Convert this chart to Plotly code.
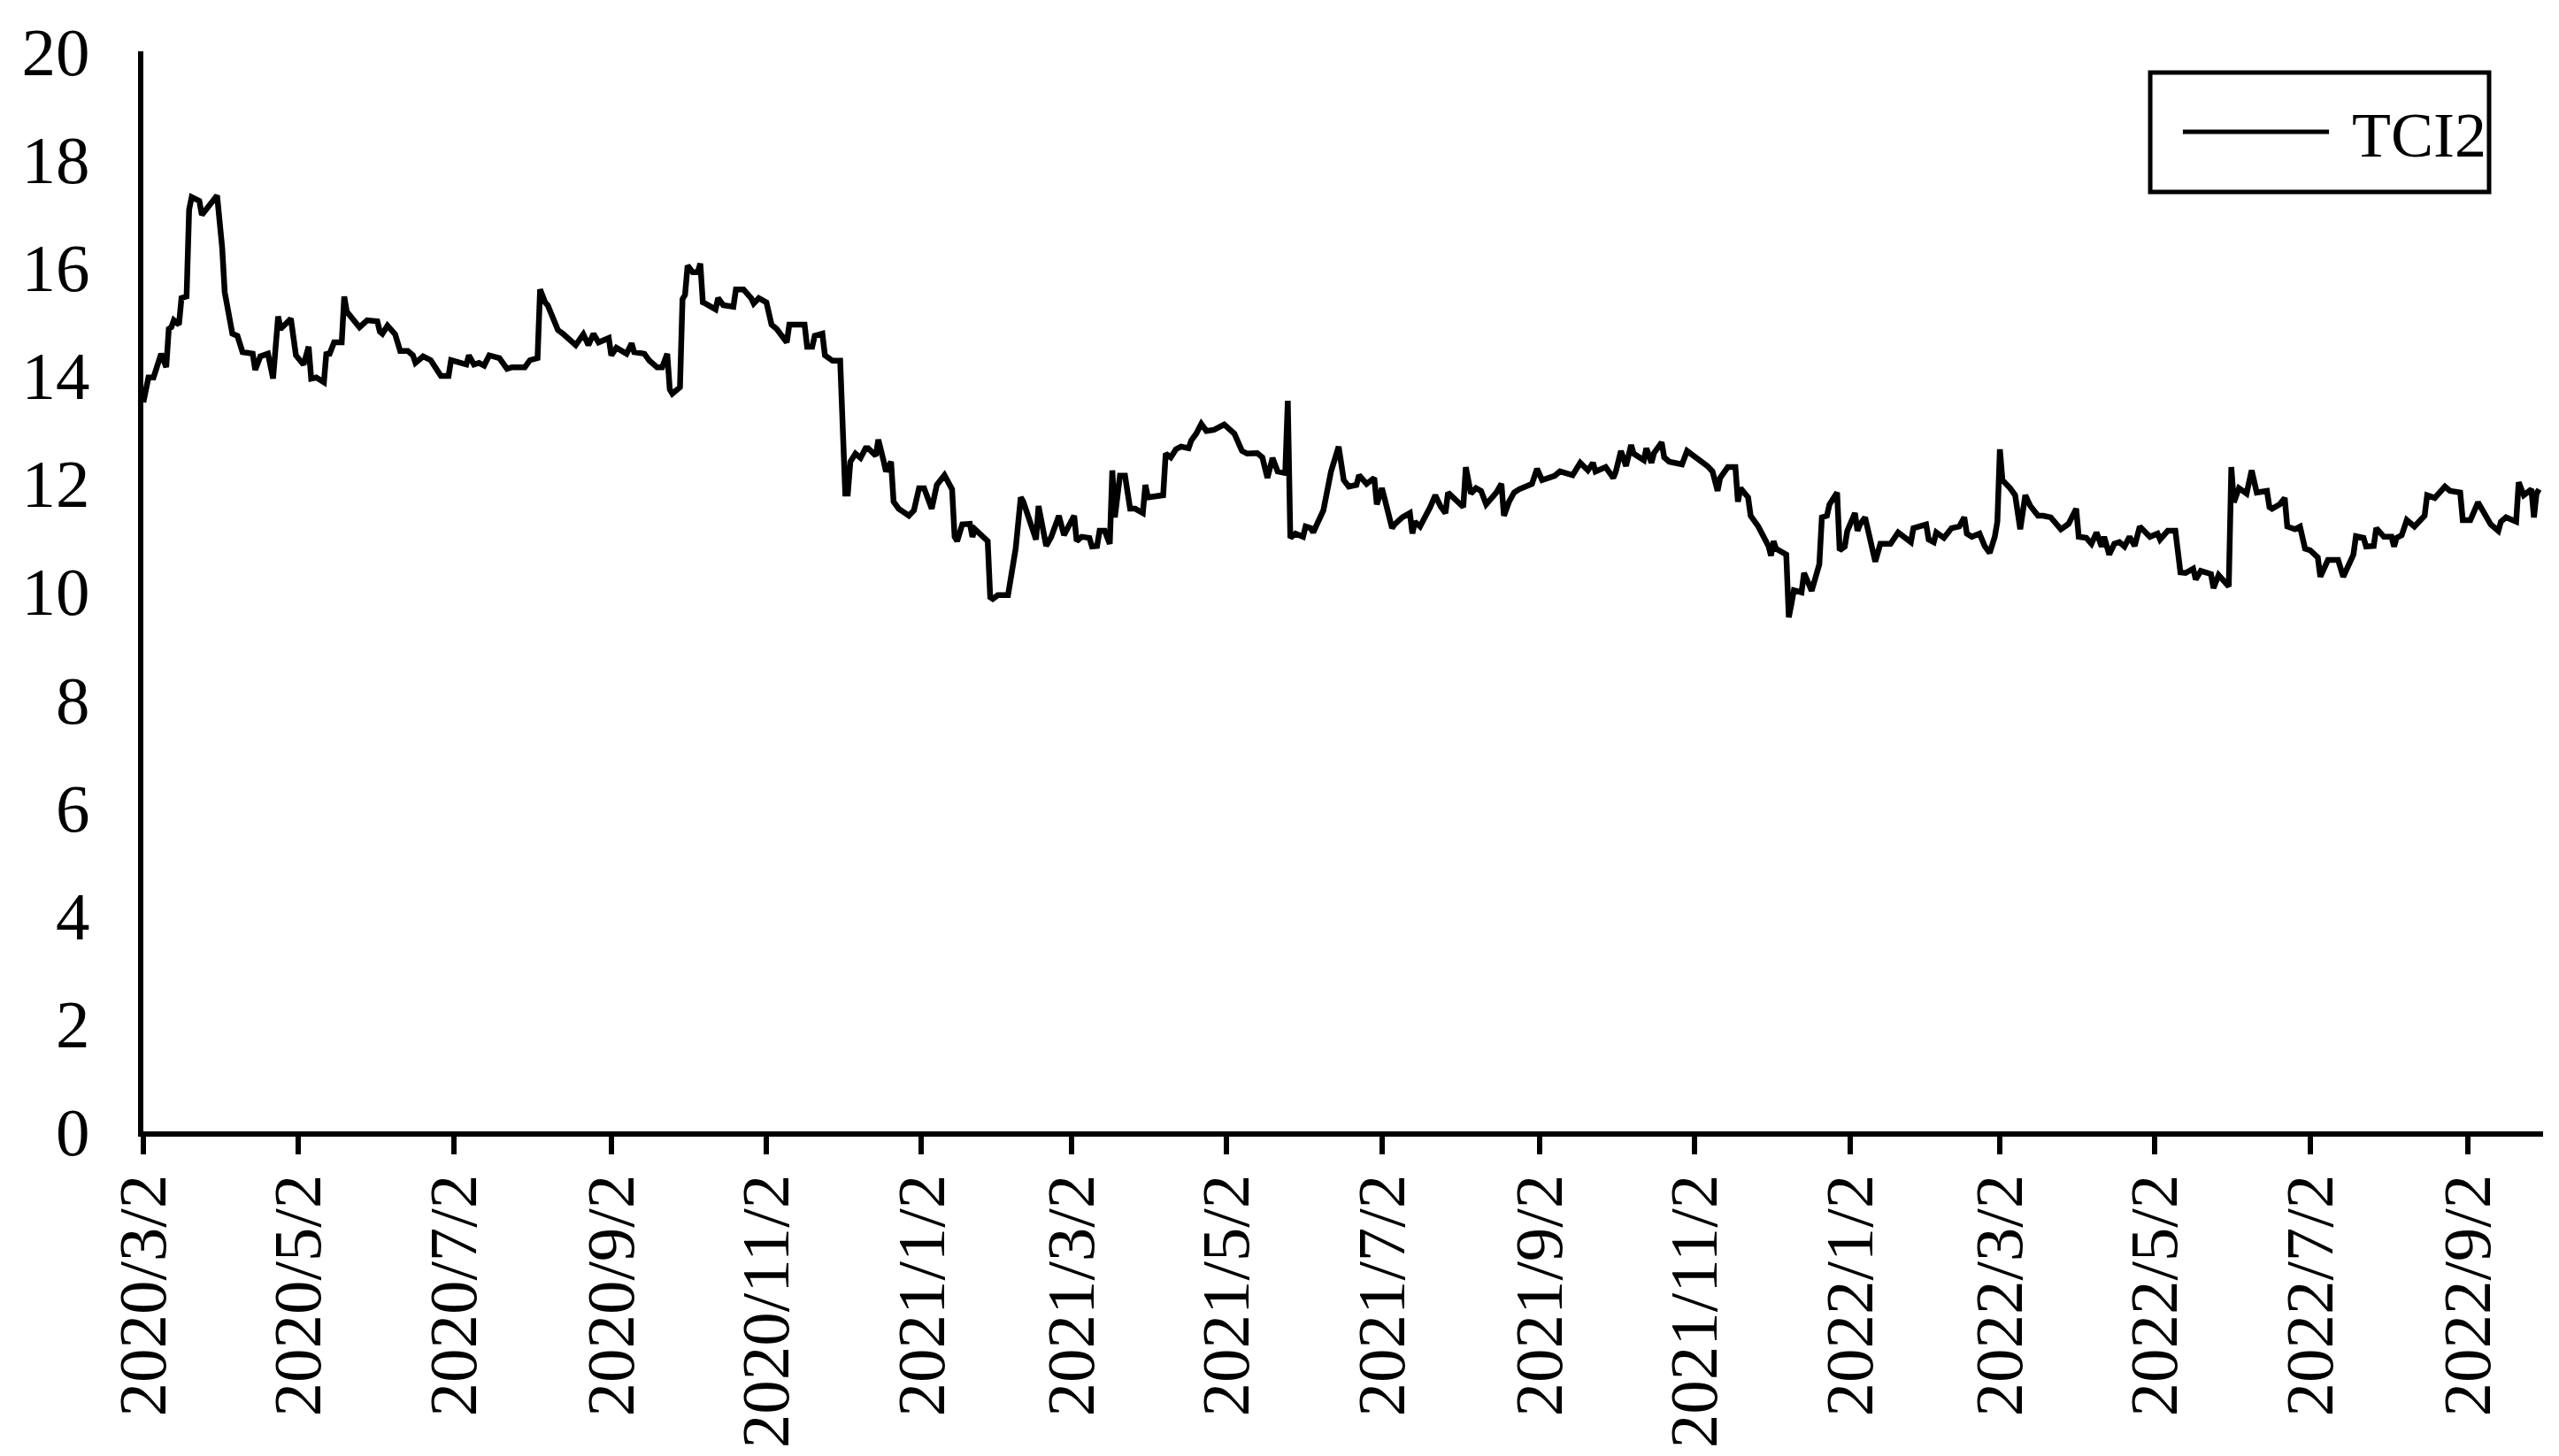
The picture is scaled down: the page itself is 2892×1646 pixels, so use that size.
import plotly.graph_objects as go

# TCI2 readings, split by year
dates_2020 = [
    "2020-03-02", "2020-03-04", "2020-03-06", "2020-03-09", "2020-03-11", "2020-03-12", "2020-03-13", "2020-03-14",
    "2020-03-16", "2020-03-17", "2020-03-19", "2020-03-20", "2020-03-21", "2020-03-24", "2020-03-25", "2020-03-31",
    "2020-04-02", "2020-04-03", "2020-04-06", "2020-04-08", "2020-04-10", "2020-04-14", "2020-04-15", "2020-04-17",
    "2020-04-20", "2020-04-22", "2020-04-24", "2020-04-25", "2020-04-29",
    "2020-05-01", "2020-05-04", "2020-05-06", "2020-05-07", "2020-05-09", "2020-05-12", "2020-05-13", "2020-05-14",
    "2020-05-16", "2020-05-19", "2020-05-20", "2020-05-21", "2020-05-26", "2020-05-29",
    "2020-06-02", "2020-06-03", "2020-06-04", "2020-06-06", "2020-06-09", "2020-06-11", "2020-06-14", "2020-06-16",
    "2020-06-17", "2020-06-20", "2020-06-23", "2020-06-27", "2020-06-30",
    "2020-07-01", "2020-07-05", "2020-07-07", "2020-07-08", "2020-07-10", "2020-07-12", "2020-07-14", "2020-07-16",
    "2020-07-20", "2020-07-23", "2020-07-25", "2020-07-30",
    "2020-08-01", "2020-08-04", "2020-08-05", "2020-08-07", "2020-08-08", "2020-08-12", "2020-08-14", "2020-08-19",
    "2020-08-22", "2020-08-24", "2020-08-26", "2020-08-28",
    "2020-09-01", "2020-09-02", "2020-09-04", "2020-09-08", "2020-09-10", "2020-09-11", "2020-09-15", "2020-09-17",
    "2020-09-20", "2020-09-22", "2020-09-24", "2020-09-25", "2020-09-26", "2020-09-29", "2020-09-30",
    "2020-10-01", "2020-10-02", "2020-10-04", "2020-10-06", "2020-10-07", "2020-10-08", "2020-10-09", "2020-10-13",
    "2020-10-14", "2020-10-16", "2020-10-20", "2020-10-21", "2020-10-24", "2020-10-27", "2020-10-28", "2020-10-30",
    "2020-11-02", "2020-11-04", "2020-11-06", "2020-11-10", "2020-11-11", "2020-11-17", "2020-11-18", "2020-11-20",
    "2020-11-21", "2020-11-24", "2020-11-25", "2020-11-27", "2020-11-28",
    "2020-12-01", "2020-12-03", "2020-12-04", "2020-12-05", "2020-12-07", "2020-12-09", "2020-12-11", "2020-12-12",
    "2020-12-15", "2020-12-16", "2020-12-18", "2020-12-19", "2020-12-21", "2020-12-22", "2020-12-24", "2020-12-28",
    "2020-12-30",
]
tci2_2020 = [
    13.5, 13.96, 13.96, 14.40, 14.15, 14.86, 14.89, 15.02, 14.94, 15.43, 15.46, 17.07, 17.30, 17.23, 16.97, 17.33,
    16.36, 15.54, 14.77, 14.73, 14.43, 14.40, 14.10, 14.35, 14.40, 13.94, 15.09, 14.86, 15.05,
    14.37, 14.20, 14.53, 13.94, 13.96, 13.87, 14.43, 14.37, 14.61, 14.61, 15.46, 15.18, 14.89, 15.02,
    15.00, 14.81, 14.77, 14.92, 14.76, 14.45, 14.45, 14.37, 14.23, 14.35, 14.28, 13.99, 13.99,
    14.28, 14.23, 14.20, 14.37, 14.20, 14.23, 14.18, 14.37, 14.32, 14.12, 14.15, 14.15,
    14.28, 14.32, 15.59, 15.35, 15.30, 14.84, 14.77, 14.56, 14.76, 14.56, 14.77, 14.61,
    14.69, 14.37, 14.51, 14.40, 14.59, 14.43, 14.40, 14.27, 14.15, 14.15, 14.40, 13.74, 13.66, 13.78, 15.41,
    15.49, 16.03, 15.91, 15.91, 16.07, 15.35, 15.33, 15.22, 15.43, 15.30, 15.27, 15.59, 15.59, 15.43, 15.33, 15.43,
    15.35, 14.94, 14.86, 14.61, 14.94, 14.94, 14.53, 14.53, 14.73, 14.77, 14.37, 14.28, 14.27,
    14.27, 11.81, 11.81, 12.40, 12.55, 12.47, 12.65, 12.65, 12.51, 12.81, 12.43, 12.22, 12.40, 11.66, 11.53, 11.40,
    11.50,
]

dates_2021 = [
    "2021-01-01", "2021-01-03", "2021-01-06", "2021-01-08", "2021-01-11", "2021-01-14", "2021-01-15", "2021-01-16",
    "2021-01-18", "2021-01-21", "2021-01-22", "2021-01-23", "2021-01-26", "2021-01-28", "2021-01-29", "2021-01-30",
    "2021-02-01", "2021-02-05", "2021-02-08", "2021-02-10", "2021-02-11", "2021-02-16", "2021-02-17", "2021-02-20",
    "2021-02-22", "2021-02-25", "2021-02-27",
    "2021-03-01", "2021-03-03", "2021-03-04", "2021-03-06", "2021-03-09", "2021-03-10", "2021-03-12", "2021-03-13",
    "2021-03-15", "2021-03-17", "2021-03-18", "2021-03-19", "2021-03-21", "2021-03-23", "2021-03-25", "2021-03-27",
    "2021-03-30", "2021-03-31",
    "2021-04-01", "2021-04-07", "2021-04-08", "2021-04-10", "2021-04-12", "2021-04-14", "2021-04-17", "2021-04-18",
    "2021-04-20", "2021-04-22", "2021-04-24", "2021-04-27",
    "2021-05-01", "2021-05-04", "2021-05-05", "2021-05-08", "2021-05-10", "2021-05-14", "2021-05-16", "2021-05-18",
    "2021-05-20", "2021-05-22", "2021-05-25", "2021-05-26", "2021-05-27", "2021-05-29",
    "2021-06-01", "2021-06-02", "2021-06-04", "2021-06-05", "2021-06-09", "2021-06-12", "2021-06-15", "2021-06-17",
    "2021-06-19", "2021-06-22", "2021-06-23", "2021-06-26", "2021-06-29", "2021-06-30",
    "2021-07-02", "2021-07-03", "2021-07-06", "2021-07-07", "2021-07-10", "2021-07-13", "2021-07-14", "2021-07-15",
    "2021-07-17", "2021-07-21", "2021-07-23", "2021-07-25", "2021-07-27", "2021-07-28",
    "2021-08-01", "2021-08-03", "2021-08-04", "2021-08-06", "2021-08-08", "2021-08-10", "2021-08-12", "2021-08-16",
    "2021-08-18", "2021-08-19", "2021-08-21", "2021-08-23", "2021-08-25", "2021-08-30",
    "2021-09-01", "2021-09-03", "2021-09-08", "2021-09-10", "2021-09-15", "2021-09-18", "2021-09-21", "2021-09-23",
    "2021-09-24", "2021-09-28",
    "2021-10-01", "2021-10-02", "2021-10-04", "2021-10-06", "2021-10-08", "2021-10-09", "2021-10-13", "2021-10-14",
    "2021-10-16", "2021-10-17", "2021-10-20", "2021-10-21", "2021-10-23", "2021-10-28", "2021-10-30",
    "2021-11-03", "2021-11-05", "2021-11-07", "2021-11-09", "2021-11-11", "2021-11-12", "2021-11-15", "2021-11-18",
    "2021-11-19", "2021-11-20", "2021-11-23", "2021-11-24", "2021-11-27",
    "2021-12-01", "2021-12-02", "2021-12-03", "2021-12-04", "2021-12-08", "2021-12-09", "2021-12-10", "2021-12-11",
    "2021-12-14", "2021-12-15", "2021-12-18", "2021-12-21", "2021-12-22", "2021-12-24", "2021-12-25", "2021-12-28",
    "2021-12-29", "2021-12-31",
]
tci2_2021 = [
    11.91, 11.91, 11.53, 11.97, 12.15, 11.89, 11.01, 10.93, 11.24, 11.25, 11.01, 11.15, 11.01, 10.93, 9.89, 9.86,
    9.93, 9.93, 10.79, 11.74, 11.66, 10.96, 11.58, 10.84, 11.01, 11.40, 11.04,
    11.24, 11.40, 10.93, 11.01, 10.99, 10.83, 10.84, 11.12, 11.12, 10.88, 12.24, 11.37, 12.14, 12.14, 11.53, 11.53,
    11.45, 11.97,
    11.74, 11.78, 12.55, 12.48, 12.63, 12.68, 12.65, 12.79, 12.92, 13.10, 12.97, 12.99,
    13.09, 12.97, 12.92, 12.60, 12.55, 12.56, 12.48, 12.10, 12.47, 12.22, 12.19, 13.53, 10.99, 11.07,
    11.01, 11.20, 11.17, 11.09, 11.50, 12.22, 12.68, 12.06, 11.94, 11.97, 12.15, 11.99, 12.10, 11.61,
    11.91, 11.73, 11.17, 11.24, 11.37, 11.45, 11.07, 11.29, 11.20, 11.56, 11.78, 11.58, 11.45, 11.83,
    11.66, 11.56, 12.30, 11.81, 11.91, 11.86, 11.61, 11.83, 11.99, 11.40, 11.66, 11.83, 11.89, 11.99,
    12.27, 12.06, 12.14, 12.22, 12.15, 12.38, 12.24, 12.38, 12.22, 12.30,
    12.10, 12.22, 12.60, 12.32, 12.71, 12.55, 12.43, 12.65, 12.38, 12.56, 12.76, 12.48, 12.40, 12.35, 12.60,
    12.47, 12.38, 12.32, 12.22, 11.86, 12.10, 12.30, 12.30, 11.66, 11.91, 11.74, 11.40, 11.20,
    10.84, 10.66, 10.93, 10.79, 10.68, 9.52, 9.76, 10.02, 9.98, 10.34, 10.01, 10.50, 11.37, 11.40, 11.61, 11.83,
    10.76, 10.83,
]

dates_2022 = [
    "2022-01-01", "2022-01-04", "2022-01-05", "2022-01-06", "2022-01-08", "2022-01-10", "2022-01-12", "2022-01-14",
    "2022-01-18", "2022-01-21", "2022-01-26", "2022-01-27", "2022-01-30",
    "2022-02-01", "2022-02-02", "2022-02-04", "2022-02-05", "2022-02-08", "2022-02-11", "2022-02-14", "2022-02-16",
    "2022-02-17", "2022-02-19", "2022-02-22", "2022-02-24", "2022-02-26", "2022-02-28",
    "2022-03-01", "2022-03-02", "2022-03-03", "2022-03-06", "2022-03-08", "2022-03-10", "2022-03-12", "2022-03-14",
    "2022-03-17", "2022-03-19", "2022-03-22", "2022-03-26", "2022-03-29",
    "2022-04-01", "2022-04-02", "2022-04-05", "2022-04-07", "2022-04-09", "2022-04-11", "2022-04-12", "2022-04-14",
    "2022-04-16", "2022-04-18", "2022-04-20", "2022-04-22", "2022-04-24", "2022-04-26", "2022-04-30",
    "2022-05-03", "2022-05-04", "2022-05-07", "2022-05-10", "2022-05-12", "2022-05-14", "2022-05-17", "2022-05-18",
    "2022-05-20", "2022-05-24", "2022-05-25", "2022-05-27", "2022-05-31",
    "2022-06-01", "2022-06-02", "2022-06-04", "2022-06-07", "2022-06-09", "2022-06-11", "2022-06-15", "2022-06-16",
    "2022-06-17", "2022-06-20", "2022-06-22", "2022-06-23", "2022-06-26", "2022-06-28", "2022-06-30",
    "2022-07-02", "2022-07-05", "2022-07-06", "2022-07-09", "2022-07-13", "2022-07-15", "2022-07-19", "2022-07-20",
    "2022-07-23", "2022-07-24", "2022-07-27", "2022-07-28", "2022-07-31",
    "2022-08-03", "2022-08-04", "2022-08-05", "2022-08-07", "2022-08-09", "2022-08-12", "2022-08-16", "2022-08-17",
    "2022-08-20", "2022-08-24", "2022-08-26", "2022-08-30", "2022-08-31",
    "2022-09-03", "2022-09-06", "2022-09-09", "2022-09-11", "2022-09-14", "2022-09-15", "2022-09-17", "2022-09-21",
    "2022-09-22", "2022-09-24", "2022-09-27", "2022-09-28", "2022-09-29", "2022-09-30",
]
tci2_2022 = [
    11.12, 11.45, 11.12, 11.24, 11.37, 11.01, 10.55, 10.88, 10.88, 11.09, 10.91, 11.17, 11.20,
    11.24, 10.96, 10.91, 11.09, 10.99, 11.17, 11.20, 11.37, 11.07, 11.01, 11.07, 10.84, 10.71, 11.01,
    11.29, 12.63, 12.06, 11.91, 11.78, 11.15, 11.78, 11.58, 11.40, 11.40, 11.37, 11.15, 11.25,
    11.53, 11.01, 10.99, 10.88, 11.09, 10.83, 11.01, 10.68, 10.88, 10.91, 10.83, 11.01, 10.84, 11.20, 11.01,
    11.07, 10.96, 11.12, 11.12, 10.35, 10.34, 10.42, 10.22, 10.38, 10.32, 10.06, 10.30, 10.09,
    12.30, 11.65, 11.91, 11.81, 12.24, 11.83, 11.86, 11.56, 11.53, 11.61, 11.73, 11.20, 11.15, 11.20, 10.79,
    10.76, 10.63, 10.27, 10.58, 10.58, 10.27, 10.68, 11.02, 10.99, 10.83, 10.84, 11.17, 11.01,
    11.01, 10.83, 10.99, 11.04, 11.32, 11.20, 11.40, 11.78, 11.73, 11.94, 11.86, 11.83, 11.32,
    11.32, 11.65, 11.42, 11.24, 11.12, 11.29, 11.37, 11.29, 12.02, 11.78, 11.89, 11.37, 11.81, 11.89,
]

tick_dates = ["2020-03-02", "2020-05-02", "2020-07-02", "2020-09-02", "2020-11-02", "2021-01-02",
              "2021-03-02", "2021-05-02", "2021-07-02", "2021-09-02", "2021-11-02", "2022-01-02",
              "2022-03-02", "2022-05-02", "2022-07-02", "2022-09-02"]
tick_labels = ["2020/3/2", "2020/5/2", "2020/7/2", "2020/9/2", "2020/11/2", "2021/1/2",
               "2021/3/2", "2021/5/2", "2021/7/2", "2021/9/2", "2021/11/2", "2022/1/2",
               "2022/3/2", "2022/5/2", "2022/7/2", "2022/9/2"]

dates = dates_2020 + dates_2021 + dates_2022
tci2 = tci2_2020 + tci2_2021 + tci2_2022
assert len(dates) == len(tci2)

FONT = "Liberation Serif, Times New Roman, serif"

fig = go.Figure()
fig.add_trace(go.Scatter(x=dates, y=tci2, mode="lines", name="TCI2",
                         line=dict(color="black", width=6.5), showlegend=False))

# legend box drawn by hand (plotly's legend sample line is too short)
fig.add_shape(type="rect", xref="paper", yref="paper", x0=0.8363, x1=0.9775, y0=0.8698, y1=0.9803,
              line=dict(color="black", width=5), fillcolor="white")
fig.add_shape(type="line", xref="paper", yref="paper", x0=0.8499, x1=0.9108, y0=0.9255, y1=0.9255,
              line=dict(color="black", width=5))
fig.add_annotation(text="TCI2", xref="paper", yref="paper", x=0.9196, y=0.9225,
                   xanchor="left", yanchor="middle", showarrow=False,
                   font=dict(family=FONT, size=72, color="black"))

# page body adds 8px, so the figure is 8px smaller than the window
fig.update_layout(
    width=2884, height=1638,
    margin=dict(l=154, r=18, t=50, b=367, autoexpand=False),
    paper_bgcolor="white", plot_bgcolor="white",
    font=dict(family=FONT, size=77, color="black"),
)
fig.update_xaxes(
    type="date", range=["2020-03-02", "2022-10-01 14:00"],
    tickmode="array", tickvals=tick_dates, ticktext=tick_labels, tickangle=-90,
    ticks="outside", ticklen=20, tickwidth=6, tickcolor="black", ticklabelstandoff=-8,
    showline=True, linecolor="black", linewidth=6,
    showgrid=False, zeroline=False, automargin=False,
)
fig.update_yaxes(
    range=[0, 20], dtick=2, tick0=0,
    ticks="", ticklabelstandoff=39,
    showline=True, linecolor="black", linewidth=6,
    showgrid=False, zeroline=False, automargin=False,
)

fig.write_html("out.html")
